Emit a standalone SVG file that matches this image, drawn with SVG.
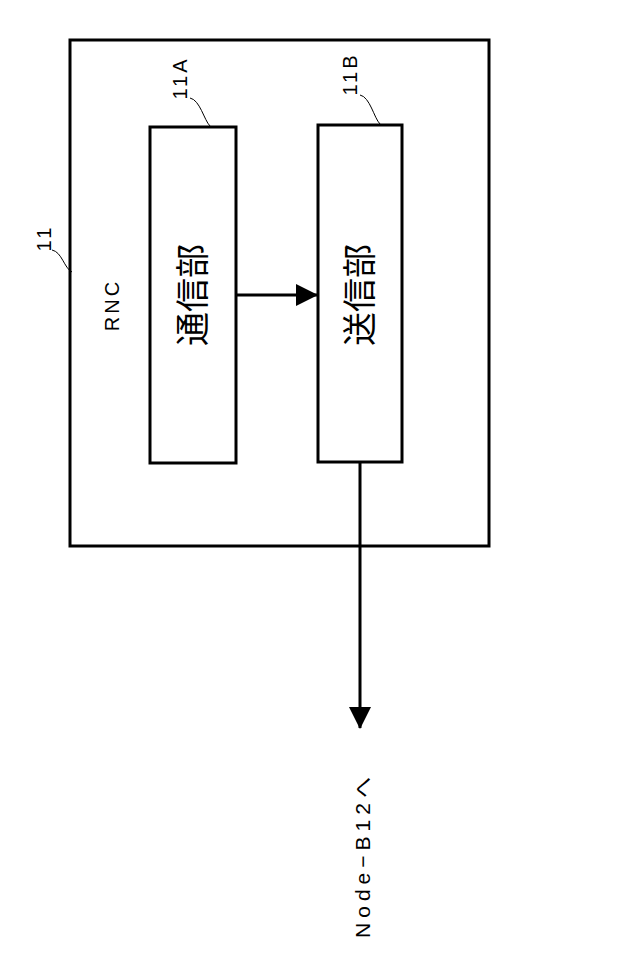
<svg xmlns="http://www.w3.org/2000/svg" width="640" height="956" viewBox="0 0 640 956">
<style>
.box{fill:#fff;stroke:#000;stroke-width:3}
.t{font-family:"Liberation Sans","Noto Sans CJK JP",sans-serif;fill:#000;text-anchor:middle;dominant-baseline:central}
.big{font-size:34px}
.sm{font-size:20px;letter-spacing:3px}
.ln{fill:none;stroke:#000;stroke-width:3}
.ld{fill:none;stroke:#000;stroke-width:1}
</style>
<defs><marker id="ah2" markerWidth="22" markerHeight="22" refX="21" refY="11" orient="auto" markerUnits="userSpaceOnUse" viewBox="0 0 22 22"><path d="M0,0L22,11L0,22z" fill="#000"/></marker></defs>
<g id="n11"><rect class="box" x="70" y="40" width="419" height="506"/>
<text class="t sm" transform="rotate(-90 44 238)" x="44" y="238">11</text>
<path class="ld" d="M52,250 C62,252 64,268 72,272"/>
<text class="t sm" transform="rotate(-90 112 305)" x="112" y="305">RNC</text></g>
<g id="n11A"><rect class="box" x="150" y="127" width="86" height="336"/>
<text class="t big" transform="rotate(-90 193 295)" x="193" y="295">通信部</text>
<text class="t sm" transform="rotate(-90 180 78)" x="180" y="78">11A</text>
<path class="ld" d="M190,98 C200,100 204,120 210,126"/></g>
<g id="n11B"><rect class="box" x="318" y="125" width="84" height="337"/>
<text class="t big" transform="rotate(-90 360 295)" x="360" y="295">送信部</text>
<text class="t sm" transform="rotate(-90 350 74)" x="350" y="74">11B</text>
<path class="ld" d="M360,95 C370,97 374,118 380,124"/></g>
<g id="connectors">
<line class="ln" x1="236" y1="295" x2="317" y2="295" marker-end="url(#ah2)"/>
<line class="ln" x1="360" y1="462" x2="360" y2="728" marker-end="url(#ah2)"/>
</g>
<g id="dest"><text class="t" style="font-size:21px;letter-spacing:5px" transform="rotate(-90 362 855)" x="362" y="855">Node−B12へ</text></g>
</svg>
